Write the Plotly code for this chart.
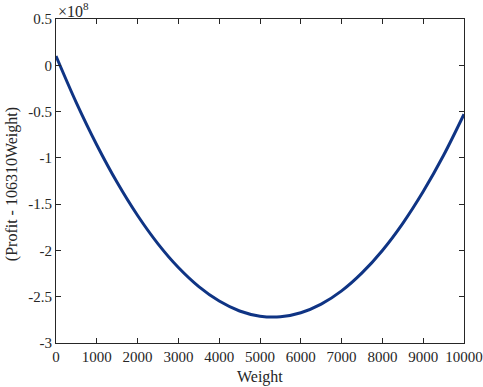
import plotly.graph_objects as go

# Weight values and (Profit - 106310*Weight) in units of 1e8
weight = [0, 500, 1000, 1500, 2000, 2500, 3000, 3500, 4000, 4500, 5000,
          5500, 6000, 6500, 7000, 7500, 8000, 8500, 9000, 9500, 10000]
profit_adj = [0.10, -0.406, -0.861, -1.267, -1.623, -1.929, -2.185, -2.391, -2.547, -2.654, -2.710,
              -2.717, -2.673, -2.580, -2.437, -2.243, -2.000, -1.707, -1.364, -0.972, -0.529]

x_ticks = [0, 1000, 2000, 3000, 4000, 5000, 6000, 7000, 8000, 9000, 10000]
y_ticks = [0.5, 0, -0.5, -1, -1.5, -2, -2.5, -3]
y_tick_text = ["0.5", "0", "-0.5", "-1", "-1.5", "-2", "-2.5", "-3"]

font_family = "Liberation Serif, Times New Roman, serif"
ink = "#262626"

fig = go.Figure()
fig.add_trace(go.Scatter(
    x=weight, y=profit_adj, mode="lines",
    line=dict(color="#0f3484", width=3, shape="spline"),
    showlegend=False,
))

axis_common = dict(
    showgrid=False, zeroline=False, showline=True, linecolor=ink, linewidth=1,
    mirror="ticks", ticks="inside", ticklen=5, tickwidth=1, tickcolor=ink,
    tickfont=dict(family=font_family, size=15, color=ink), automargin=False,
)

fig.update_layout(
    width=483, height=387,
    margin=dict(l=56, r=19, t=19, b=44),
    paper_bgcolor="white", plot_bgcolor="white",
    font=dict(family=font_family, size=15, color=ink),
    xaxis=dict(range=[0, 10000], tickvals=x_ticks, ticktext=[str(v) for v in x_ticks],
               **axis_common),
    yaxis=dict(range=[-3, 0.5], tickvals=y_ticks, ticktext=y_tick_text,
               **axis_common),
    annotations=[
        dict(text="×10<sup>8</sup>", xref="paper", yref="paper", x=0, y=1,
             xanchor="left", yanchor="bottom", showarrow=False,
             font=dict(family=font_family, size=16, color=ink), yshift=-3),
        dict(text="Weight", xref="paper", yref="paper", x=0.5, y=-0.105,
             xanchor="center", yanchor="middle", showarrow=False,
             font=dict(family=font_family, size=16, color=ink)),
        dict(text="(Profit - 106310Weight)", xref="paper", yref="paper", x=-0.108, y=0.49,
             xanchor="center", yanchor="middle", showarrow=False, textangle=-90,
             font=dict(family=font_family, size=16, color=ink)),
    ],
)

fig.write_html("out.html", config={"displayModeBar": False},
               post_script="document.body.style.margin='0';document.body.style.overflow='hidden';")
